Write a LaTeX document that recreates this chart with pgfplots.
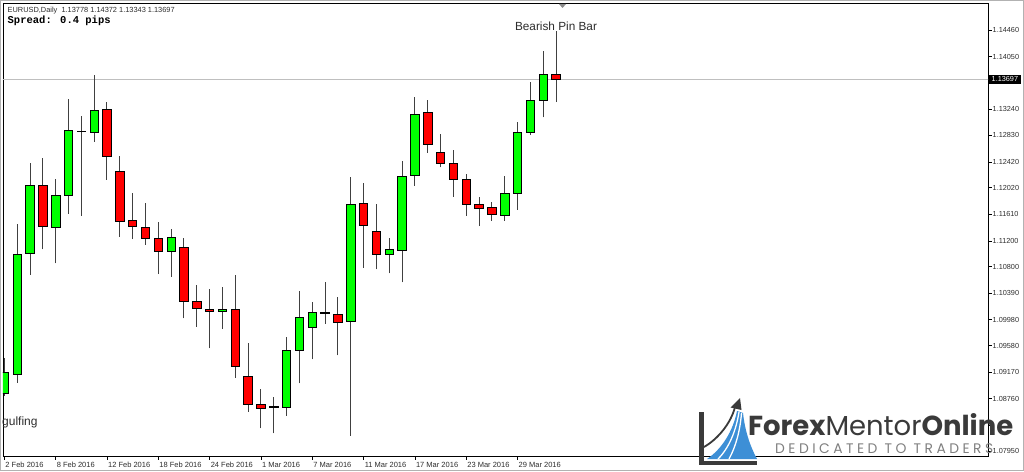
\documentclass[border=0pt]{standalone}
\usepackage{fontspec}
\setmainfont{Liberation Sans}
\newfontfamily\monob{Liberation Mono}
\newfontfamily\logofont{Poppins}
\usepackage{pgfplots}
\pgfplotsset{compat=1.18}
\definecolor{bull}{HTML}{00FF00}
\definecolor{bear}{HTML}{FF0000}
\definecolor{logogray}{HTML}{3A3A3A}
\definecolor{logoblue}{HTML}{3D8FD6}
\definecolor{txtgray}{HTML}{2E2E2E}
% prices are stored as pips above 1.07000, i.e. (price - 1.07) * 10000
% candle: index, low, body low, body high, high, colour
\newcommand{\candle}[6]{%
\pgfmathsetmacro\xa{#1-0.33}\pgfmathsetmacro\xb{#1+0.33}%
\addplot[black!75, line width=0.9pt, mark=none] coordinates {(#1,#2) (#1,#3)};
\addplot[black!75, line width=0.9pt, mark=none] coordinates {(#1,#4) (#1,#5)};
\addplot[draw=black, fill=#6, line width=0.7pt, mark=none] coordinates {(\xa,#3) (\xb,#3) (\xb,#4) (\xa,#4)} -- cycle;
}
\begin{document}
\begin{tikzpicture}
\path[use as bounding box] (0,0) rectangle (1024pt,471pt);
\fill[white] (0,0) rectangle (1024pt,471pt);
\begin{axis}[at={(3pt,15pt)}, anchor=south west, scale only axis,
  width=985pt, height=453pt,
  xmin=-0.101, xmax=76.67, ymin=87.28, ymax=787.75,
  axis line style={black, line width=0.7pt},
  tick align=outside, major tick length=3.5pt,
  tick style={black, line width=0.6pt},
  xtick pos=bottom, ytick pos=right, yticklabel pos=right,
  xtick={0,4,...,40},
  xticklabels={2 Feb 2016, 8 Feb 2016, 12 Feb 2016, 18 Feb 2016, 24 Feb 2016, 1 Mar 2016, 7 Mar 2016, 11 Mar 2016, 17 Mar 2016, 23 Mar 2016, 29 Mar 2016},
  xticklabel style={font=\fontsize{7.5}{8}\selectfont, text=txtgray, anchor=west, inner sep=0pt, xshift=1pt, yshift=-5pt},
  ytick={95,135,176,217,258,298,339,380,420,461,502,542,583,624,664,705,746},
  yticklabels={1.07950,,1.08760,1.09170,1.09580,1.09980,1.10390,1.10800,1.11200,1.11610,1.12020,1.12420,1.12830,1.13240,,1.14050,1.14460},
  yticklabel style={font=\fontsize{7.3}{8}\selectfont, text=txtgray, anchor=west, inner sep=0pt, xshift=1pt},
  clip=true]
\addplot[color=black!25, line width=1pt] coordinates {(-1,669.7) (80,669.7)};
\candle{0}{180.1}{184.2}{216.7}{238.4}{bull}
\candle{1}{200.6}{214.1}{399.6}{446.0}{bull}
\candle{2}{367.6}{400.4}{505.9}{539.9}{bull}
\candle{3}{406.9}{442.5}{505.9}{548.5}{bear}
\candle{4}{385.3}{440.9}{490.9}{515.6}{bull}
\candle{5}{461.5}{490.4}{590.9}{638.8}{bull}
\candle{6}{458.9}{589.5}{590.0}{613.0}{bull}
\candle{7}{573.3}{588.3}{622.3}{676.9}{bull}
\candle{8}{514.1}{551.2}{623.4}{634.7}{bear}
\candle{9}{426.4}{450.7}{528.0}{550.7}{bear}
\candle{10}{422.8}{441.8}{451.1}{493.5}{bear}
\candle{11}{413.6}{423.3}{441.4}{478.5}{bear}
\candle{12}{368.7}{403.2}{423.9}{448.7}{bear}
\candle{13}{364.5}{403.5}{425.5}{438.8}{bull}
\candle{14}{300.2}{325.9}{410.0}{423.9}{bear}
\candle{15}{287.2}{315.1}{325.9}{351.7}{bear}
\candle{16}{253.8}{311.5}{314.6}{345.5}{bear}
\candle{17}{283.7}{310.4}{314.6}{348.1}{bull}
\candle{18}{208.4}{226.4}{314.1}{367.2}{bear}
\candle{19}{155.8}{167.7}{211.0}{261.6}{bear}
\candle{20}{130.1}{161.5}{167.2}{190.4}{bear}
\candle{21}{122.4}{162.8}{163.3}{178.1}{bull}
\candle{22}{149.6}{162.6}{251.2}{271.8}{bull}
\candle{23}{199.7}{251.2}{301.8}{342.0}{bull}
\candle{24}{236.8}{285.7}{309.5}{324.9}{bull}
\candle{25}{291.4}{308.6}{309.1}{356.8}{bull}
\candle{26}{243.0}{294.5}{306.9}{333.6}{bear}
\candle{27}{118.7}{295.6}{476.9}{518.2}{bull}
\candle{28}{378.5}{444.5}{478.0}{509.0}{bear}
\candle{29}{376.0}{398.6}{434.7}{476.5}{bear}
\candle{30}{369.8}{398.6}{406.3}{423.9}{bull}
\candle{31}{355.9}{405.8}{520.2}{543.4}{bull}
\candle{32}{505.2}{521.3}{615.7}{642.9}{bull}
\candle{33}{556.3}{569.7}{618.1}{637.8}{bear}
\candle{34}{533.7}{539.9}{557.4}{584.7}{bear}
\candle{35}{488.2}{515.1}{540.3}{560.4}{bear}
\candle{36}{458.4}{476.9}{515.1}{523.3}{bear}
\candle{37}{442.9}{470.3}{476.9}{487.3}{bear}
\candle{38}{451.4}{461.0}{471.8}{480.8}{bear}
\candle{39}{451.1}{459.5}{493.5}{519.5}{bull}
\candle{40}{467.7}{493.5}{587.5}{603.7}{bull}
\candle{41}{583.6}{587.5}{637.3}{665.6}{bull}
\candle{42}{611.0}{637.3}{677.8}{713.5}{bull}
\candle{43}{634.3}{669.7}{677.8}{743.7}{bear}
\coordinate (pl) at (axis cs:76.67,669.7);
\end{axis}
% price label
\node[fill=black, text=white, font=\fontsize{7.3}{8}\selectfont, inner xsep=3pt, inner ysep=1.8pt, anchor=west] at ([xshift=0.5pt]pl) {1.13697};
% chart texts
\node[anchor=west, inner sep=0pt, font=\fontsize{7.4}{8}\selectfont, text=txtgray] at (7.5pt,460pt) {EURUSD,Daily\ \ 1.13778 1.14372 1.13343 1.13697};
\node[anchor=west, inner sep=0pt, font=\monob\bfseries\fontsize{10.5}{11}\selectfont, text=black] at (7.5pt,450.3pt) {Spread: 0.4 pips};
\node[anchor=base, inner sep=0pt, font=\fontsize{11.8}{13}\selectfont, text=txtgray] at (556pt,440.3pt) {Bearish Pin Bar};
\node[anchor=base west, inner sep=0pt, font=\fontsize{12}{13}\selectfont, text=txtgray] at (2pt,46pt) {gulfing};
\fill[black!45] (559pt,467pt) -- (566pt,467pt) -- (562.5pt,463pt) -- cycle;
% frame
\draw[black!30, line width=1pt] (0.5pt,0.5pt) rectangle (1023.5pt,470.5pt);
% logo
\begin{scope}[x=1pt,y=1pt]
\fill[logoblue] (707,12) .. controls (722,22) and (733,40) .. (737,60) -- (743,58) .. controls (745,40) and (750,25) .. (757,12) -- cycle;
\draw[white, line width=1.3pt] (718,12) .. controls (729,23) and (736,40) .. (739,59);
\draw[white, line width=1.3pt] (729,12) .. controls (736,25) and (740,40) .. (741.5,58);
\fill[logogray] (699,6) rectangle (704,59);
\fill[logogray] (699,6) rectangle (757,10.5);
\draw[logogray, line width=1.8pt] (704,24) .. controls (718,32) and (731,48) .. (735,64);
\fill[logogray] (740,73) -- (730.5,63.5) -- (741.5,61) -- cycle;
\node[anchor=base west, inner sep=0pt, text=logogray] at (748,35) {\resizebox{265pt}{!}{\logofont\textbf{Forex}Mentor\textbf{Online}}};
\node[anchor=base west, inner sep=0pt, text=black!50] at (775,17.5) {\resizebox{218pt}{!}{\logofont\addfontfeature{LetterSpace=25}DEDICATED TO TRADERS}};
\end{scope}
\end{tikzpicture}
\end{document}
